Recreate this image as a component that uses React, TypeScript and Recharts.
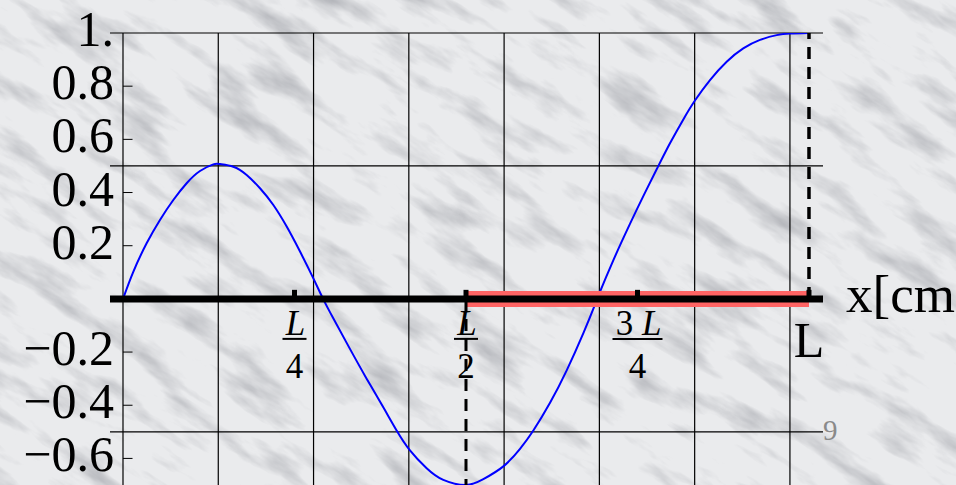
import React from "react";
import { Line, LineChart, ReferenceLine, XAxis, YAxis } from "recharts";

// wave profile, x in grid units (L = 7.2)
const L = 7.2;
const waveX = [
  0, 0.108, 0.248, 0.388, 0.528, 0.668, 0.808, 0.948, 1.018, 1.158, 1.298, 1.438, 1.578, 1.718, 1.858, 1.998,
  2.1, 2.207, 2.382, 2.557, 2.732, 2.872, 3.012, 3.187, 3.362, 3.6, 3.782, 3.992, 4.167, 4.307, 4.482, 4.657,
  4.832, 4.954, 5.006, 5.146, 5.321, 5.47, 5.608, 5.741, 5.881, 6.003, 6.161, 6.336, 6.51, 6.686, 6.861, 7.0, 7.2,
];
const waveY = [
  0, 0.102, 0.209, 0.297, 0.372, 0.435, 0.481, 0.506, 0.507, 0.497, 0.466, 0.416, 0.353, 0.272, 0.178, 0.077,
  0.0, -0.073, -0.188, -0.3, -0.408, -0.495, -0.57, -0.637, -0.681, -0.7, -0.678, -0.63, -0.564, -0.495, -0.391,
  -0.269, -0.129, -0.022, 0.026, 0.145, 0.282, 0.393, 0.492, 0.585, 0.675, 0.746, 0.823, 0.892, 0.942, 0.974, 0.992,
  0.998, 1,
];

const xGrid = [1, 2, 3, 4, 5, 6, 7];
const yGrid = [1, 0.5, -0.5];
const yTicks = [1, 0.8, 0.6, 0.4, 0.2, -0.2, -0.4, -0.6];
const yTickMarks = [0.8, 0.6, 0.4, 0.2, -0.2, -0.4, -0.6];
const xTickPos = [L / 4, L / 2, (3 * L) / 4];
const xTickPre = ["", "", "3 "];
const xTickDen = ["4", "2", "4"];

const data = waveX.map((x, i) => ({ x, y: waveY[i] }));

const SERIF = "'Liberation Serif', 'Times New Roman', serif";
const X_DOMAIN: [number, number] = [-0.1364, 7.347];

function YTick({ y, payload }: any) {
  const v = payload.value as number;
  const txt = v === 1 ? "1." : v < 0 ? "\u2212" + Math.abs(v).toFixed(1) : v.toFixed(1);
  return (
    <text x={114} y={y + 13} textAnchor="end" fontSize={50} fontFamily={SERIF} fill="#000">
      {txt}
    </text>
  );
}

function FracLabel({ viewBox, pre, den }: any) {
  const cx = viewBox.x;
  const y0 = viewBox.y + viewBox.height;
  const w = pre ? 25 : 12;
  return (
    <g fontFamily={SERIF} fontSize={35} fill="#000">
      <text x={cx + 1} y={y0 + 36} textAnchor="middle">
        {pre}
        <tspan fontStyle="italic">L</tspan>
      </text>
      <line x1={cx - w} x2={cx + w} y1={y0 + 40} y2={y0 + 40} stroke="#000" strokeWidth={2} />
      <text x={cx} y={y0 + 79} textAnchor="middle">
        {den}
      </text>
    </g>
  );
}

function EndLabel({ viewBox }: any) {
  const cx = viewBox.x;
  const y0 = viewBox.y + viewBox.height;
  return (
    <g fontFamily={SERIF} fill="#000">
      <text x={cx} y={y0 + 58} textAnchor="middle" fontSize={50}>
        L
      </text>
      <text x={846} y={y0 + 13} fontSize={53}>
        x[cm
      </text>
    </g>
  );
}

function Marble() {
  return (
    <svg width={956} height={485} style={{ position: "absolute", left: 0, top: 0 }}>
      <defs>
        <filter id="marble" x="0" y="0" width="100%" height="100%">
          <feTurbulence type="fractalNoise" baseFrequency="0.012 0.04" numOctaves={5} seed={11} />
          <feColorMatrix
            type="matrix"
            values="0 0 0 0 0.45  0 0 0 0 0.46  0 0 0 0 0.49  -2.2 0 0 0 1.12"
          />
        </filter>
      </defs>
      <rect width={956} height={485} fill="#eaebed" />
      <g transform="rotate(32 478 242)">
        <rect x={-300} y={-400} width={1556} height={1285} filter="url(#marble)" />
      </g>
      <text x={823} y={440} fontSize={29} fontFamily={SERIF} fill="#8a8a8a">
        9
      </text>
    </svg>
  );
}

export default function App() {
  return (
    <div style={{ position: "absolute", left: 0, top: 0, width: 956, height: 485, overflow: "hidden" }}>
      <Marble />
      <div style={{ position: "absolute", left: 0, top: 0 }}>
        <LineChart width={956} height={485} data={data} margin={{ top: 33, right: 133, bottom: 0, left: 0 }}>
          <XAxis type="number" dataKey="x" domain={X_DOMAIN} allowDataOverflow hide />
          <YAxis
            type="number"
            domain={[-0.7, 1]}
            allowDataOverflow
            ticks={yTicks}
            interval={0}
            width={110}
            axisLine={false}
            tickLine={false}
            tick={<YTick />}
          />
          {xGrid.map((v) => (
            <ReferenceLine key={"gx" + v} x={v} stroke="#000" strokeWidth={1.2} />
          ))}
          {yGrid.map((v) => (
            <ReferenceLine key={"gy" + v} y={v} stroke="#000" strokeWidth={1.2} />
          ))}
          <ReferenceLine x={0} stroke="#000" strokeWidth={1.2} />
          {yTickMarks.map((v) => (
            <ReferenceLine
              key={"ty" + v}
              segment={[
                { x: 0, y: v },
                { x: 0.1, y: v },
              ]}
              stroke="#000"
              strokeWidth={1}
            />
          ))}
          <Line
            dataKey="y"
            type="natural"
            stroke="#0000ff"
            strokeWidth={2}
            dot={false}
            isAnimationActive={false}
          />
          <ReferenceLine
            segment={[
              { x: L / 2, y: 0 },
              { x: L, y: 0 },
            ]}
            stroke="#ff6464"
            strokeWidth={16}
          />
          <ReferenceLine
            segment={[
              { x: X_DOMAIN[0], y: 0 },
              { x: X_DOMAIN[1], y: 0 },
            ]}
            stroke="#000"
            strokeWidth={7}
          />
          {xTickPos.map((v, i) => (
            <ReferenceLine
              key={"tx" + i}
              segment={[
                { x: v, y: 0 },
                { x: v, y: 0.034 },
              ]}
              stroke="#000"
              strokeWidth={5}
              label={(p: any) => <FracLabel viewBox={p.viewBox} pre={xTickPre[i]} den={xTickDen[i]} />}
            />
          ))}
          <ReferenceLine
            segment={[
              { x: L, y: 0 },
              { x: L, y: 0.034 },
            ]}
            stroke="#000"
            strokeWidth={5}
            label={(p: any) => <EndLabel viewBox={p.viewBox} />}
          />
          <ReferenceLine
            segment={[
              { x: L, y: 0 },
              { x: L, y: 1 },
            ]}
            stroke="#000"
            strokeWidth={3.5}
            strokeDasharray="12 8"
          />
          <ReferenceLine
            segment={[
              { x: L / 2, y: 0 },
              { x: L / 2, y: -0.7 },
            ]}
            stroke="#000"
            strokeWidth={3}
            strokeDasharray="12 8"
          />
        </LineChart>
      </div>
    </div>
  );
}
